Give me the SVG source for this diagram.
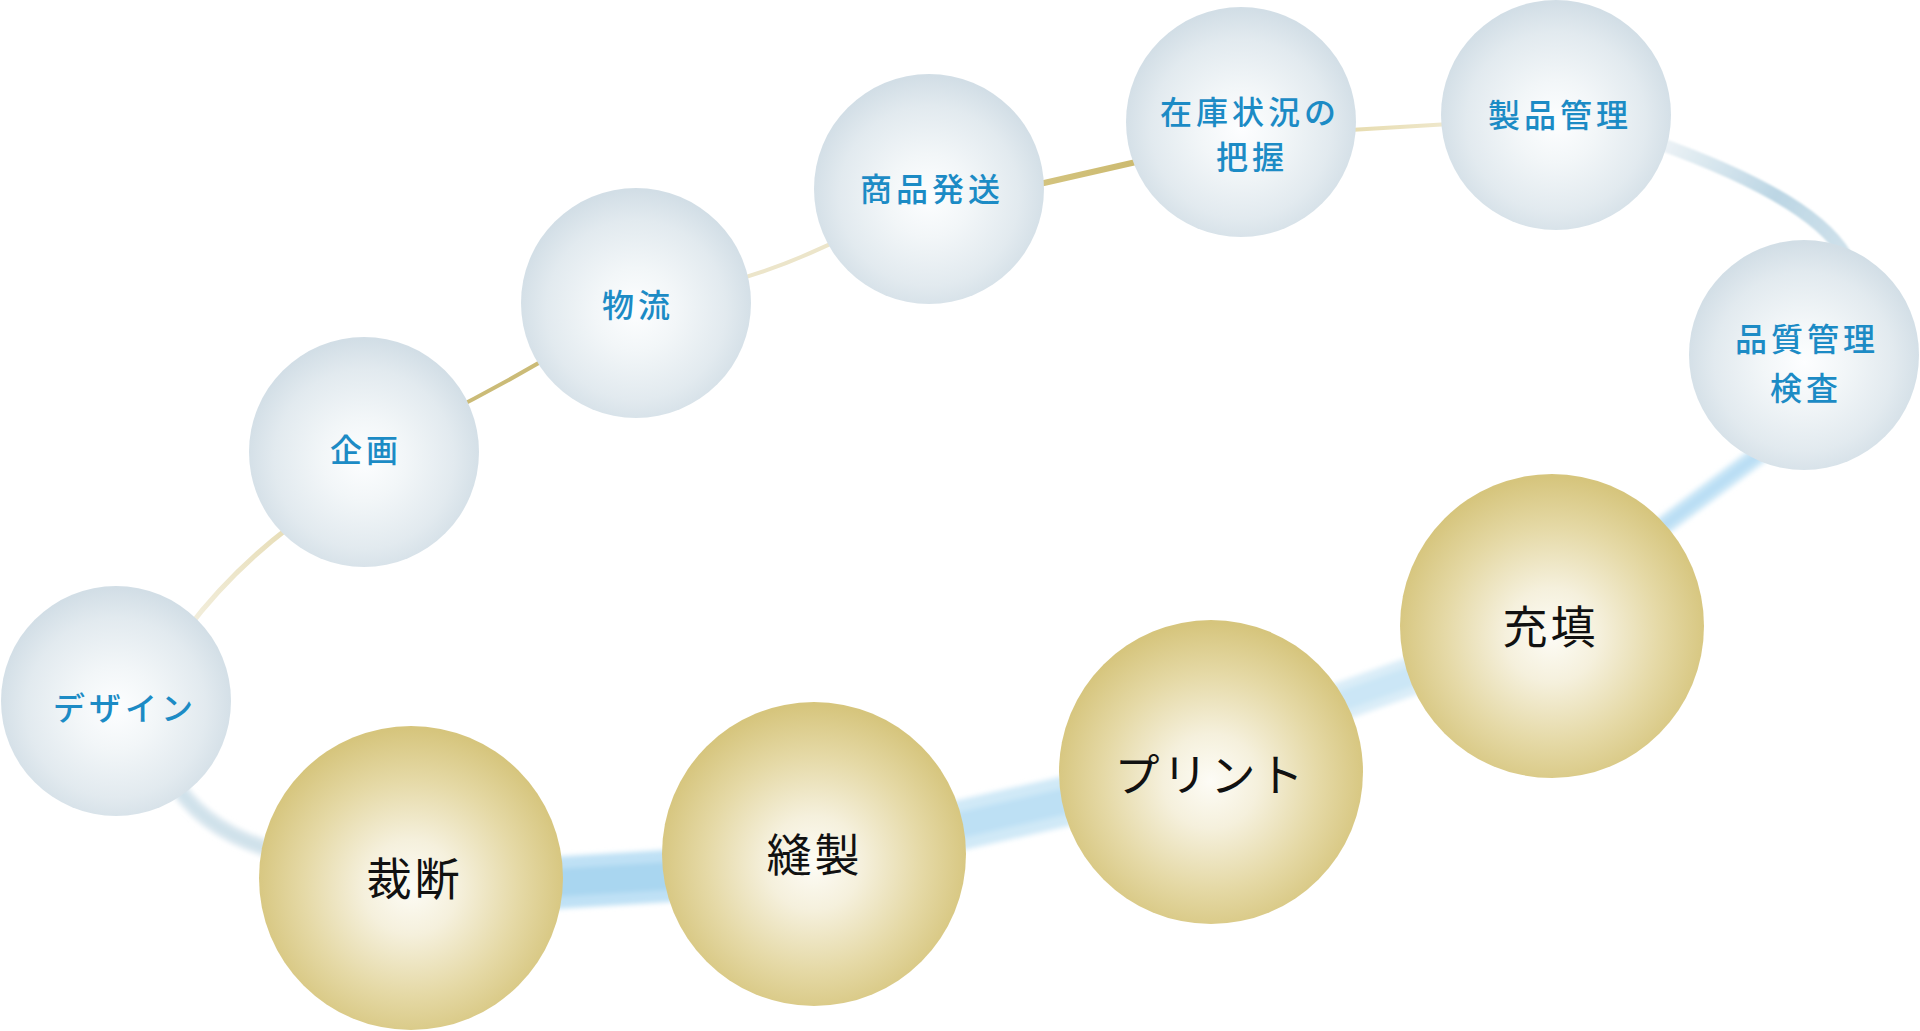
<svg xmlns="http://www.w3.org/2000/svg" width="1920" height="1031" viewBox="0 0 1920 1031">
  <defs>
    <radialGradient id="gBlue" cx="50%" cy="53%" r="52%">
      <stop offset="0%" stop-color="#fdfeff"/>
      <stop offset="35%" stop-color="#f2f6f8"/>
      <stop offset="75%" stop-color="#e2eaef"/>
      <stop offset="100%" stop-color="#d2dee6"/>
    </radialGradient>
    <radialGradient id="gGold" cx="50%" cy="53%" r="52%">
      <stop offset="0%" stop-color="#fdfcf6"/>
      <stop offset="30%" stop-color="#f5f0dc"/>
      <stop offset="68%" stop-color="#e5d9a6"/>
      <stop offset="100%" stop-color="#d6c57d"/>
    </radialGradient>
    <linearGradient id="gA" gradientUnits="userSpaceOnUse" x1="185" y1="632" x2="292" y2="525">
      <stop offset="0" stop-color="#f3efdf"/>
      <stop offset="1" stop-color="#e7ddb6"/>
    </linearGradient>
    <linearGradient id="gD" gradientUnits="userSpaceOnUse" x1="1000" y1="193" x2="1180" y2="152">
      <stop offset="0" stop-color="#d6c785"/>
      <stop offset="1" stop-color="#c9b669"/>
    </linearGradient>
    <linearGradient id="gE" gradientUnits="userSpaceOnUse" x1="1300" y1="133" x2="1500" y2="121">
      <stop offset="0" stop-color="#e2d59f"/>
      <stop offset="1" stop-color="#f4efdd"/>
    </linearGradient>
    <linearGradient id="gF" gradientUnits="userSpaceOnUse" x1="1667" y1="148" x2="1840" y2="243">
      <stop offset="0" stop-color="#eaf1f5"/>
      <stop offset="0.6" stop-color="#bcd6e4"/>
      <stop offset="1" stop-color="#cde0ea"/>
    </linearGradient>
    <filter id="soft" x="-20%" y="-20%" width="140%" height="140%">
      <feGaussianBlur stdDeviation="2.5"/>
    </filter>
    <filter id="soft2" x="-20%" y="-20%" width="140%" height="140%">
      <feGaussianBlur stdDeviation="1.2"/>
    </filter>
  </defs>
  <style>
    .thin { fill: none; stroke-linecap: round; }
    .rib { fill: none; stroke-linecap: butt; }
    .blue { fill: url(#gBlue); }
    .gold { fill: url(#gGold); }
    .tb { font-family: 'Noto Sans CJK JP', sans-serif; font-size: 32px; font-weight: 500; letter-spacing: 4px; fill: #1c8bc5; text-anchor: middle; dominant-baseline: central; }
    .tk { font-family: 'Noto Sans CJK JP', sans-serif; font-size: 45px; letter-spacing: 3px; fill: #111111; text-anchor: middle; dominant-baseline: central; }
  </style>

  <g id="connectors">
    <!-- upper thin golden line -->
    <path class="thin" d="M185,632 Q230,572 292,525" stroke="url(#gA)" stroke-width="5"/>
    <path class="thin" d="M364,452 Q500,392 636,303" stroke="#cbbb77" stroke-width="4"/>
    <path class="thin" d="M636,303 Q790,280 929,189" stroke="#ece5ca" stroke-width="4"/>
    <path class="thin" d="M1000,193 L1180,152" stroke="url(#gD)" stroke-width="6"/>
    <path class="thin" d="M1300,133 L1500,121" stroke="url(#gE)" stroke-width="4"/>
    <!-- blue ribbons -->
    <g filter="url(#soft2)">
      <path class="rib" d="M1655,142 Q1812,198 1845,255" stroke="url(#gF)" stroke-width="13"/>
    </g>
    <g filter="url(#soft)">
      <path class="rib" d="M1765,450 L1655,532" stroke="#cce7f7" stroke-width="19"/>
      <path class="rib" d="M1765,450 L1655,532" stroke="#b9def4" stroke-width="9"/>
      <path class="rib" d="M1300,716 L1440,666" stroke="#daedf8" stroke-width="38"/>
      <path class="rib" d="M1300,716 L1440,666" stroke="#cbe6f6" stroke-width="20"/>
      <path class="rib" d="M900,839 L1110,791" stroke="#d0e9f7" stroke-width="50"/>
      <path class="rib" d="M900,839 L1110,791" stroke="#bde0f4" stroke-width="26"/>
      <path class="rib" d="M520,885 L700,874" stroke="#bfe1f5" stroke-width="52"/>
      <path class="rib" d="M520,885 L700,874" stroke="#a9d6f0" stroke-width="28"/>
      <path class="rib" d="M170,775 Q200,830 275,851" stroke="#dbe8f0" stroke-width="17"/>
      <path class="rib" d="M170,775 Q200,830 275,851" stroke="#cfe1ea" stroke-width="8"/>
    </g>
  </g>

  <g id="node-design">
    <circle class="blue" cx="116" cy="701" r="115"/>
    <text class="tb" x="125" y="706">デザイン</text>
  </g>
  <g id="node-kikaku">
    <circle class="blue" cx="364" cy="452" r="115"/>
    <text class="tb" x="366" y="448">企画</text>
  </g>
  <g id="node-butsuryu">
    <circle class="blue" cx="636" cy="303" r="115"/>
    <text class="tb" x="638" y="303">物流</text>
  </g>
  <g id="node-shohin-hasso">
    <circle class="blue" cx="929" cy="189" r="115"/>
    <text class="tb" x="932" y="187">商品発送</text>
  </g>
  <g id="node-zaiko">
    <circle class="blue" cx="1241" cy="122" r="115"/>
    <text class="tb" x="1250" y="110">在庫状況の</text>
    <text class="tb" x="1252" y="155">把握</text>
  </g>
  <g id="node-seihin-kanri">
    <circle class="blue" cx="1556" cy="115" r="115"/>
    <text class="tb" x="1560" y="113">製品管理</text>
  </g>
  <g id="node-hinshitsu">
    <circle class="blue" cx="1804" cy="355" r="115"/>
    <text class="tb" x="1807" y="337">品質管理</text>
    <text class="tb" x="1806" y="386">検査</text>
  </g>
  <g id="node-juten">
    <circle class="gold" cx="1552" cy="626" r="152"/>
    <text class="tk" x="1550.5" y="624">充填</text>
  </g>
  <g id="node-print">
    <circle class="gold" cx="1211" cy="772" r="152"/>
    <text class="tk" x="1210.5" y="772">プリント</text>
  </g>
  <g id="node-hosei">
    <circle class="gold" cx="814" cy="854" r="152"/>
    <text class="tk" x="814.5" y="852">縫製</text>
  </g>
  <g id="node-saidan">
    <circle class="gold" cx="411" cy="878" r="152"/>
    <text class="tk" x="414.5" y="876">裁断</text>
  </g>
</svg>
